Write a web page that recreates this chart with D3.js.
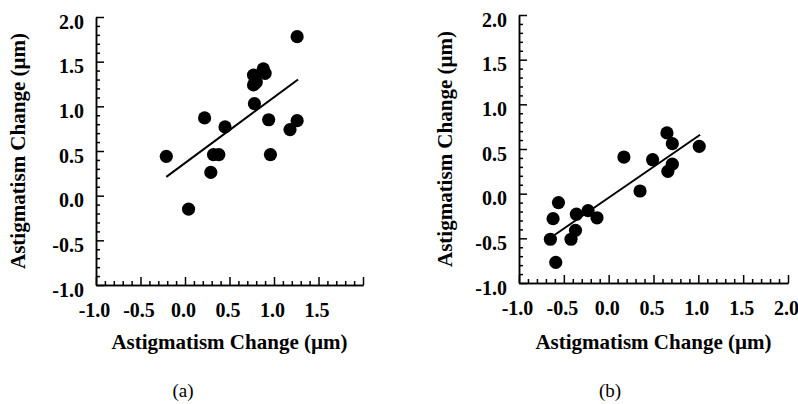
<!DOCTYPE html>
<html>
<head>
<meta charset="utf-8">
<script src="https://cdn.jsdelivr.net/npm/d3@7"></script>
<style>
  body { margin: 0; background: #fff; }
  svg { display: block; }
  .axis path, .axis line { stroke: #000; stroke-width: 1.5px; }
  .axis text { font-family: "Liberation Serif", "Times New Roman", serif; font-weight: bold; font-size: 20px; fill: #000; }
  .title { font-family: "Liberation Serif", "Times New Roman", serif; font-weight: bold; font-size: 21px; }
  .caption { font-family: "Liberation Serif", "Times New Roman", serif; font-size: 19px; }
</style>
</head>
<body>
<svg id="chart" width="798" height="404"></svg>
<script>
// tick values and labels
var majorTicks = [-1.0, -0.5, 0.0, 0.5, 1.0, 1.5, 2.0]
var yTickLabels = ["-1.0", "-0.5", "0.0", "0.5", "1.0", "1.5", "2.0"]
var xTickLabelsA = ["-1.0", "-0.5", "0.0", "0.5", "1.0", "1.5", ""]
var xTickLabelsB = ["-1.0", "-0.5", "0.0", "0.5", "1.0", "1.5", "2.0"]
var axisTitle = "Astigmatism Change (\u00b5m)"

// panel (a) points
var changeAx = [-0.21, 0.04, 0.22, 0.29, 0.32, 0.38, 0.45, 0.78, 0.77, 0.77, 0.80, 0.88, 0.90, 0.94, 0.96, 1.18, 1.26, 1.26]
var changeAy = [0.44, -0.15, 0.87, 0.26, 0.46, 0.46, 0.77, 1.03, 1.35, 1.24, 1.27, 1.42, 1.37, 0.85, 0.46, 0.74, 0.84, 1.78]
var fitA = [[-0.21, 0.21], [1.27, 1.30]]

// panel (b) points
var changeBx = [-0.65, -0.62, -0.56, -0.59, -0.42, -0.37, -0.36, -0.23, -0.13, 0.17, 0.35, 0.49, 0.65, 0.71, 0.66, 0.71, 1.01]
var changeBy = [-0.51, -0.28, -0.10, -0.77, -0.51, -0.41, -0.23, -0.19, -0.27, 0.41, 0.03, 0.38, 0.68, 0.56, 0.25, 0.33, 0.53]
var fitB = [[-0.60, -0.46], [1.02, 0.66]]

var minorTicks = d3.range(-10, 21).filter(function(i) { return i % 5 !== 0 }).map(function(i) { return i / 10 })

var svg = d3.select("#chart")

function drawPanel(opts) {
    var x = d3.scaleLinear().domain([-1, 2]).range([opts.left, opts.right])
    var y = d3.scaleLinear().domain([-1, 2]).range([opts.bottom, opts.top])
    var g = svg.append("g")

    // minor ticks
    g.append("g")
        .attr("class", "axis")
        .attr("transform", "translate(0," + opts.bottom + ")")
        .call(d3.axisBottom(x).tickValues(minorTicks).tickSizeInner(-4).tickSizeOuter(0).tickFormat(""))
    g.append("g")
        .attr("class", "axis")
        .attr("transform", "translate(" + opts.left + ",0)")
        .call(d3.axisLeft(y).tickValues(minorTicks).tickSizeInner(-4).tickSizeOuter(0).tickFormat(""))

    // major ticks + labels
    var xAxis = g.append("g")
        .attr("class", "axis")
        .attr("transform", "translate(0," + opts.bottom + ")")
        .call(d3.axisBottom(x).tickValues(majorTicks).tickSizeInner(-8).tickSizeOuter(0).tickPadding(18)
            .tickFormat(function(d, i) { return opts.xLabels[i] }))
    xAxis.selectAll("text").attr("dx", "-0.1em")

    var yAxis = g.append("g")
        .attr("class", "axis")
        .attr("transform", "translate(" + opts.left + ",0)")
        .call(d3.axisLeft(y).tickValues(majorTicks).tickSizeInner(-8).tickSizeOuter(0).tickPadding(12)
            .tickFormat(function(d, i) { return yTickLabels[i] }))
    // labels sit a little below their ticks in the original
    yAxis.selectAll("text").attr("dy", "0.55em")

    g.selectAll(".axis .domain").attr("fill", "none")

    // fit line
    g.append("path")
        .datum(opts.fit)
        .attr("fill", "none")
        .attr("stroke", "#000")
        .attr("stroke-width", 2)
        .attr("d", d3.line().x(function(d) { return x(d[0]) }).y(function(d) { return y(d[1]) }))

    // points
    g.selectAll(".dot")
        .data(opts.xs)
        .enter().append("circle")
        .attr("class", "dot")
        .attr("cx", function(d) { return x(d) })
        .attr("cy", function(d, i) { return y(opts.ys[i]) })
        .attr("r", 6.6)
        .attr("fill", "#000")

    // titles
    g.append("text")
        .attr("class", "title")
        .attr("x", (opts.left + opts.right) / 2)
        .attr("y", 349)
        .attr("text-anchor", "middle")
        .text(axisTitle)

    g.append("text")
        .attr("class", "title")
        .attr("transform", "translate(" + opts.yTitleX + "," + (opts.top + opts.bottom) / 2 + ") rotate(-90)")
        .attr("text-anchor", "middle")
        .text(axisTitle)

    g.append("text")
        .attr("class", "caption")
        .attr("x", opts.captionX)
        .attr("y", 397)
        .attr("text-anchor", "middle")
        .text(opts.caption)
}

drawPanel({ left: 96, right: 363, top: 17, bottom: 285, xs: changeAx, ys: changeAy, fit: fitA,
    xLabels: xTickLabelsA, yTitleX: 25, captionX: 183, caption: "(a)" })
drawPanel({ left: 519, right: 788, top: 15, bottom: 283, xs: changeBx, ys: changeBy, fit: fitB,
    xLabels: xTickLabelsB, yTitleX: 452, captionX: 610, caption: "(b)" })
</script>
</body>
</html>
